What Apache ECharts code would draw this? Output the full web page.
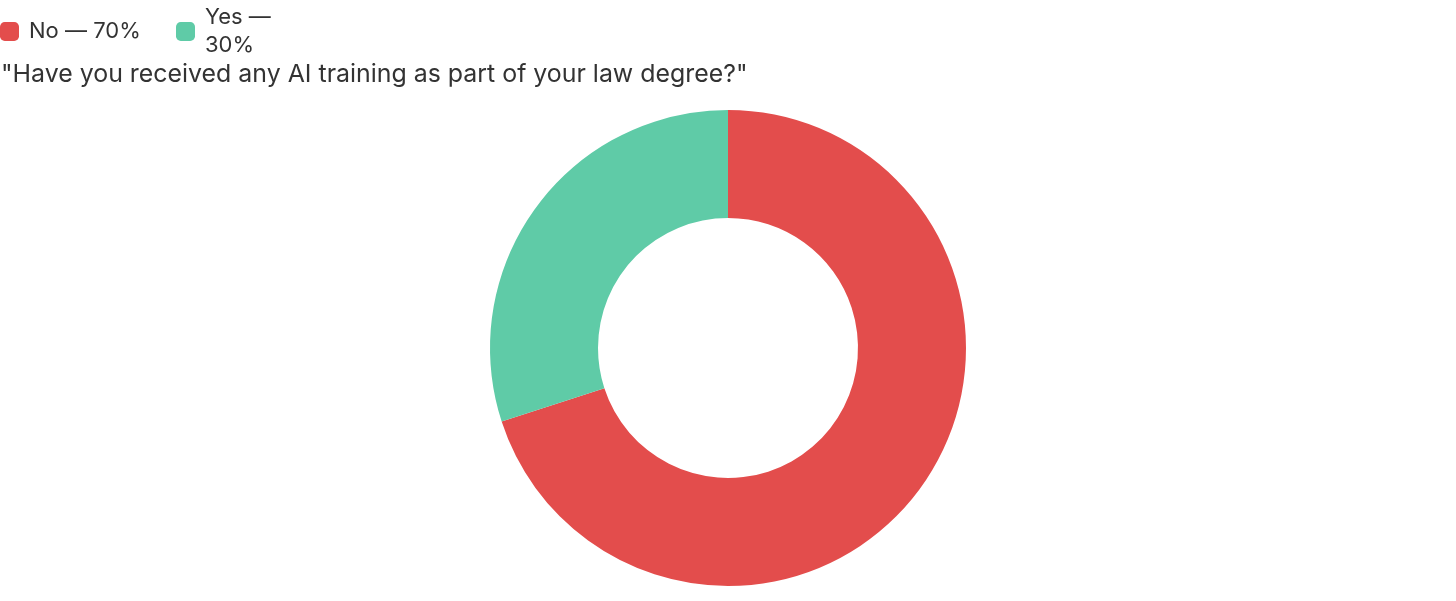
<!DOCTYPE html>
<html>
<head>
<meta charset="utf-8">
<script src="https://cdn.jsdelivr.net/npm/echarts@6/dist/echarts.min.js"></script>
<style>
html,body{margin:0;padding:0;background:#fff;}
#chart{width:1456px;height:601px;}
</style>
</head>
<body>
<div id="chart"></div>
<script>
const titleText = '"Have you received any AI training as part of your law degree?"';
const categories = ['No', 'Yes'];
const values = [70, 30];
const colors = ['#e34d4c', '#5fcba7'];

const total = values.reduce((a, b) => a + b, 0);
const chart = echarts.init(document.getElementById('chart'), null, {renderer: 'canvas'});
const FONT = 'Inter, "Noto Sans", sans-serif';
chart.setOption({
  animation: false,
  color: colors,
  title: {
    text: titleText,
    left: 1,
    top: 62,
    padding: 0,
    textStyle: {fontFamily: FONT, fontSize: 24.9, fontWeight: 'normal', color: '#333'}
  },
  legend: {
    left: 0,
    top: 3.5,
    padding: 0,
    itemGap: 31,
    itemWidth: 19,
    itemHeight: 19,
    icon: 'roundRect',
    data: categories,
    formatter: function (name) {
      const i = categories.indexOf(name);
      return name + ' — ' + Math.round(values[i] / total * 100) + '%';
    },
    textStyle: {fontFamily: FONT, fontSize: 22, color: '#333', lineHeight: 28, width: 116, overflow: 'break', padding: [0, 0, 0, 5]}
  },
  series: [{
    type: 'pie',
    center: [728, 348],
    radius: [130, 238],
    startAngle: 90,
    clockwise: true,
    label: {show: false},
    labelLine: {show: false},
    silent: true,
    itemStyle: {borderWidth: 0},
    data: categories.map((c, i) => ({name: c, value: values[i]}))
  }]
});
</script>
</body>
</html>
